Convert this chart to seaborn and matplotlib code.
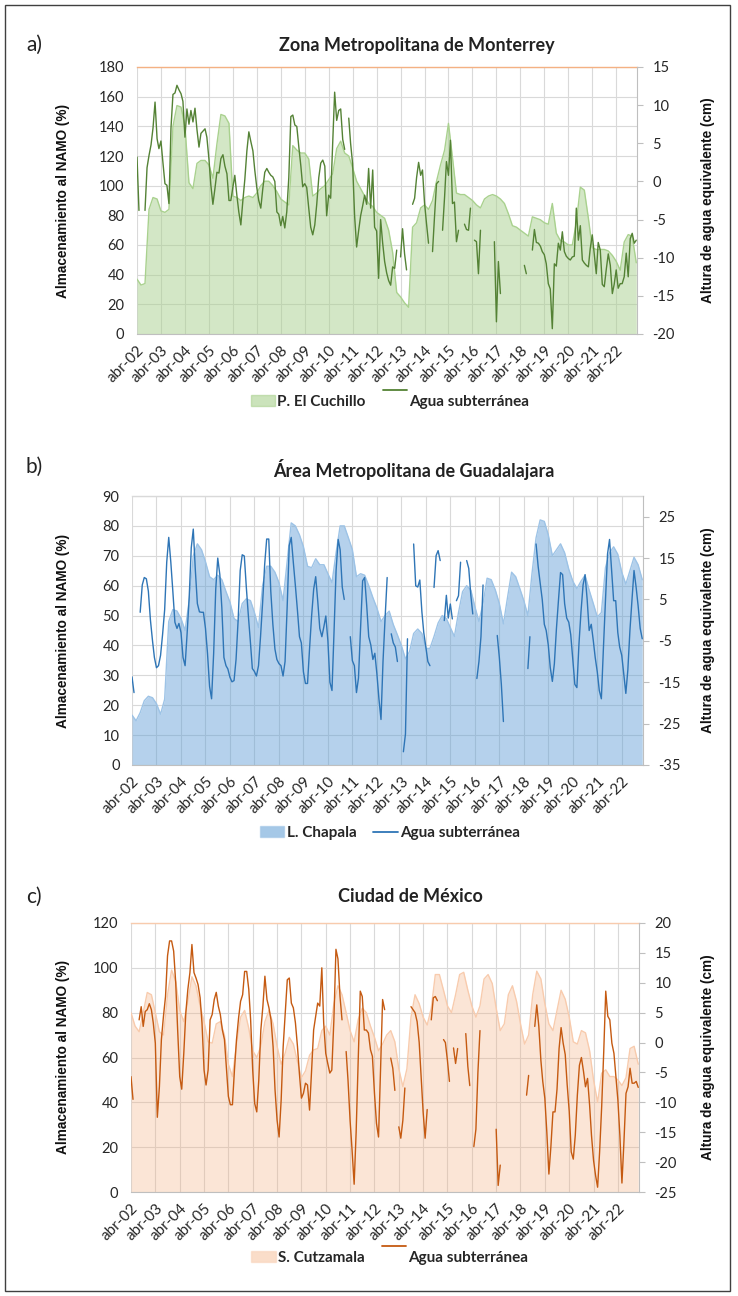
import numpy as np
import pandas as pd
import matplotlib
matplotlib.use("Agg")
import matplotlib.pyplot as plt
import seaborn as sns
from matplotlib.patches import Patch, Rectangle
from matplotlib.lines import Line2D
from matplotlib.legend_handler import HandlerLine2D

nan = np.nan

# ---------------- data ----------------
area_dates = pd.date_range("2002-04-01", periods=126, freq="2MS")
line_dates = pd.date_range("2002-04-01", periods=251, freq="MS")
year_ticks = [pd.Timestamp(y, 4, 1) for y in range(2002, 2023)]
tick_labels = ["abr-02", "abr-03", "abr-04", "abr-05", "abr-06", "abr-07", "abr-08",
               "abr-09", "abr-10", "abr-11", "abr-12", "abr-13", "abr-14", "abr-15",
               "abr-16", "abr-17", "abr-18", "abr-19", "abr-20", "abr-21", "abr-22"]

# a) Monterrey
cuchillo = [37, 33, 34, 84, 92, 91, 83, 82, 84, 140,
            154, 153, 140, 102, 98, 115, 117, 117, 114, 105,
            128, 148, 147, 142, 93, 92, 90, 92, 93, 92,
            95, 100, 103, 103, 100, 96, 91, 89, 87, 127,
            124, 122, 122, 118, 93, 95, 98, 100, 104, 108,
            125, 130, 122, 120, 112, 103, 98, 93, 88, 86,
            82, 80, 78, 70, 55, 28, 25, 21, 18, 72,
            75, 85, 87, 84, 90, 103, 114, 124, 142, 119,
            95, 94, 94, 92, 90, 87, 85, 91, 93, 94,
            93, 91, 88, 81, 73, 72, 70, 68, 66, 79,
            78, 77, 75, 74, 88, 68, 63, 62, 60, 60,
            75, 99, 97, 78, 58, 57, 57, 57, 56, 53,
            49, 43, 62, 67, 66, 48]
gw_mty = [3.2, -3.8, nan, nan, -3.8, 1.8, 3.4, 4.8, 7.0, 10.4,
          5.6, 4.3, 5.3, 2.5, -0.3, -0.5, -2.9, 7.0, 11.4, 11.6,
          12.6, 12.0, 11.5, 10.5, 5.8, 9.5, 7.5, 9.3, 7.8, 9.6,
          6.8, 4.5, 6.3, 6.6, 6.9, 5.8, 3.0, -0.5, -3.0, -1.0,
          1.2, 1.1, 3.0, 3.5, 2.0, 1.0, -2.5, -2.5, -0.8, 0.8,
          -1.8, -4.0, -5.7, -2.5, 0.3, 4.0, 6.5, 5.2, 4.0, 1.5,
          -0.8, -2.5, -3.5, -1.0, 1.2, 1.7, 1.2, 0.8, 0.6, 0.0,
          -4.0, -4.3, -5.8, -4.6, -6.1, -4.0, 0.5, 8.5, 8.7, 7.4,
          7.2, 4.5, 2.0, -0.7, -0.3, -0.8, -3.5, -6.0, -7.0, -5.7,
          -3.0, 0.5, 2.4, 2.8, 2.0, -4.5, -1.8, -2.2, 5.0, 11.7,
          8.0, 9.3, 9.5, 5.5, 4.2, nan, 8.3, 5.0, 2.3, -4.5,
          -8.6, -6.5, -4.5, -3.2, -1.8, -3.0, 1.7, -3.5, 1.5, -6.0,
          -6.5, -12.7, -5.0, -8.0, -10.5, -12.0, -13.0, -13.6, -11.2, -11.4,
          -9.0, nan, -9.9, -6.2, -9.5, -11.6, nan, nan, -3.0, -2.2,
          0.5, 2.5, 0.8, 1.5, -2.8, -5.5, -8.1, nan, -9.2, -4.5,
          -0.3, 0.0, nan, -6.4, -2.0, 2.6, 0.8, 5.4, -2.9, -2.7,
          -7.9, -6.4, nan, nan, -5.6, -6.3, -6.4, -3.5, nan, -7.7,
          -7.9, -12.1, -6.4, nan, nan, nan, nan, nan, nan, -7.9,
          -18.4, -10.5, -14.7, nan, nan, nan, nan, nan, nan, nan,
          nan, nan, nan, nan, -11.0, -12.1, nan, nan, -9.0, -6.3,
          -8.0, -8.1, -8.5, -9.2, -9.6, -10.8, -13.4, -14.1, -19.3, -10.8,
          -11.1, -8.1, -9.0, -6.6, -9.2, -9.8, -10.1, -10.3, -9.9, -9.8,
          -3.5, -7.7, -5.8, -10.3, -10.7, -11.0, -11.2, -8.8, -7.0, -9.5,
          -12.1, -8.0, -9.0, -13.5, -13.8, -11.5, -9.5, -11.0, -14.7, -13.5,
          -11.6, -14.0, -13.4, -13.4, -12.5, -9.4, -12.5, -7.5, -6.8, -8.1,
          -7.7]

# b) Guadalajara
chapala = [16.7, 14.8, 17.5, 21.5, 23, 22.5, 20.5, 17, 22, 48,
           52, 51.5, 49, 45, 55, 70, 74, 72, 68, 63,
           62, 63.5, 62, 58, 54.5, 49, 48, 54, 55.6, 55,
           51, 46, 60, 66.5, 66.5, 64.5, 61, 55, 68, 81,
           80, 77, 73, 66.5, 66, 69, 67, 67, 64, 61,
           71, 80, 80, 76, 72, 63, 64, 63.5, 60, 56,
           52.5, 48, 50, 51.5, 47, 43.5, 40, 35.5, 38, 44,
           45.5, 44, 39, 39, 43, 47.5, 50, 49, 46, 43,
           51, 58, 60, 58.5, 53, 48, 54, 62.5, 62, 58.5,
           54, 47.2, 56, 64.5, 63, 59, 55, 50, 64, 76,
           82, 81.5, 77, 70, 72, 74, 71, 65.5, 61.5, 59,
           61.5, 63.5, 58.5, 54, 49.5, 51, 66, 71, 73, 70.5,
           64.5, 60.5, 65, 69.5, 67, 62]
gw_gdl = [-13.7, -17.5, nan, nan, 1.9, 8.5, 10.3, 10.0, 7.0, 0.0,
          -5.0, -9.0, -11.5, -11.0, -8.5, -3.5, 2.5, 14.0, 20.0, 14.0,
          7.0, -0.5, -2.0, -0.8, -3.0, -9.0, -11.0, -3.3, 5.5, 17.5,
          22.0, 12.0, 4.0, 2.0, 1.9, 1.9, -2.0, -8.0, -16.0, -19.0,
          -8.0, 7.5, 15.0, 11.0, 3.0, -9.0, -11.0, -11.8, -13.8, -14.9,
          -14.6, -9.5, 0.0, 12.0, 15.8, 15.5, 8.0, 1.0, -5.5, -11.7,
          -12.4, -13.5, -11.0, -4.0, 4.2, 13.5, 19.6, 19.6, 7.0, -1.0,
          -7.0, -9.5, -10.5, -11.0, -13.5, -10.0, 3.0, 18.0, 20.0, 14.0,
          8.5, 2.5, -4.0, -5.5, -12.5, -15.3, -15.3, -7.0, 1.0, 7.5,
          10.5, 4.5, -2.0, -4.0, -1.5, 1.0, -5.0, -15.0, -17.0, -3.0,
          12.0, 19.5, 17.0, 8.0, 5.0, nan, nan, -4.0, -9.8, -11.0,
          -17.5, -14.0, -2.0, 9.5, 10.3, 3.5, -4.0, -6.0, -9.5, -8.0,
          -13.0, -19.0, -24.0, -10.0, 0.5, 10.3, nan, -3.3, -5.5, -6.5,
          -10.0, nan, nan, -31.8, -27.5, -4.5, nan, nan, 18.4, 8.3,
          8.0, 9.7, 2.0, -3.0, -6.5, -10.0, -11.0, nan, 7.9, 15.6,
          16.8, 14.4, nan, -0.1, 6.0, 0.5, 3.9, 0.3, nan, 4.7,
          5.9, 14.0, nan, nan, 14.4, 12.5, 6.0, 1.5, nan, -14.1,
          -10.0, -4.0, 8.5, nan, nan, nan, nan, nan, nan, -3.7,
          -9.0, -15.5, -24.5, nan, nan, nan, nan, nan, nan, nan,
          nan, nan, nan, nan, -11.7, -4.0, nan, nan, 18.4, 13.0,
          9.0, 5.0, -1.0, -2.5, -6.0, -11.5, -14.8, -10.5, -2.0, 5.0,
          11.5, 11.0, 4.0, 0.5, -0.5, -3.5, -9.5, -15.5, -16.3, -6.0,
          2.0, 8.5, 11.0, 5.0, -2.5, -1.0, -5.0, -9.0, -12.5, -17.0,
          -19.0, -7.0, 4.7, 16.0, 19.5, 12.0, 4.7, 4.7, -3.0, -6.5,
          -8.5, -13.0, -17.7, -12.0, -2.5, 5.0, 12.0, 8.0, 3.5, -2.0,
          -4.5]

# c) Ciudad de Mexico
cutzamala = [80, 74, 71.5, 80, 89, 88, 80, 71.5, 70, 88,
             99, 94, 81, 76, 85, 96, 92, 83, 76, 67,
             66.4, 75, 76, 70, 57, 51.5, 66, 78, 81, 73,
             63, 60, 65, 76, 81, 75, 65, 57, 62, 69,
             66, 58, 51, 54, 61, 63.4, 64, 72, 74, 70,
             84, 92, 88, 80, 72, 67, 77, 82, 80, 74,
             69, 63, 66, 70, 72, 67, 55, 47, 55, 78,
             88, 84, 78, 74.5, 82, 97, 97, 90, 83, 80,
             88, 97, 98, 90, 83, 78, 83, 95, 97, 93,
             82, 72, 75, 88, 92, 85, 75, 66, 70, 88,
             98.5, 95, 84, 75, 72, 81, 90, 86, 78, 67,
             66, 72, 71, 63, 50, 40, 53, 54.5, 51.5, 51.5,
             50, 47.5, 51, 64, 65, 57]
gw_cdmx = [-5.7, -9.5, nan, nan, 3.8, 6.0, 2.7, 5.2, 5.5, 6.5,
           5.5, 3.3, -0.1, -12.5, -7.4, 0.5, 4.4, 7.7, 14.5, 17.0,
           17.0, 15.3, 10.0, 2.1, -5.7, -7.8, -1.8, 4.9, 8.9, 11.7,
           16.4, 11.7, 10.8, 9.7, 7.5, 3.3, -4.6, -7.1, -4.6, 3.8,
           4.7, 7.2, 8.4, 6.1, 4.7, 2.1, 0.5, -4.0, -9.0, -10.4,
           -10.4, -4.6, 0.5, 4.1, 6.9, 8.0, 11.9, 11.9, 8.9, 3.8,
           -4.6, -10.2, -11.6, -6.3, 2.1, 6.1, 11.1, 7.2, 5.8, 3.8,
           -0.7, -7.9, -13.0, -15.8, -9.6, -0.7, 4.9, 10.5, 10.8, 6.6,
           5.8, 3.3, -0.7, -5.1, -9.3, -8.5, -6.8, -7.1, -11.3, -4.6,
           2.1, 4.4, 6.6, 6.1, 12.5, 3.3, -1.8, -3.5, -5.1, -4.6,
           3.8, 15.6, 14.0, 7.7, 3.8, nan, -1.5, -6.3, -13.0, -18.0,
           -23.7, -15.0, -2.9, 8.6, 7.7, 2.1, 2.1, 1.6, -1.2, -2.3,
           -8.5, -13.5, -15.8, -4.6, 7.2, 5.5, nan, nan, -2.6, -4.3,
           -8.0, nan, -14.1, -16.0, -13.0, -7.6, nan, nan, 6.0, 5.5,
           5.0, 3.5, 0.0, -5.5, -11.6, -16.0, -11.2, nan, 3.8, 7.5,
           7.7, 7.0, nan, nan, 0.5, 0.0, -3.0, -6.5, nan, -0.9,
           -3.5, -1.0, nan, nan, nan, 1.5, -4.0, -7.2, nan, -17.4,
           -14.5, -5.0, 2.0, nan, nan, nan, nan, nan, nan, nan,
           -14.5, -23.9, -20.5, nan, nan, nan, nan, nan, nan, nan,
           nan, nan, nan, nan, nan, -8.8, -5.5, nan, nan, 2.7,
           6.3, 2.7, -3.0, -6.5, -9.3, -15.0, -22.0, -17.4, -11.6, -11.6,
           -7.8, -1.0, 2.5, -0.1, -2.0, -7.0, -11.5, -18.3, -19.5, -15.5,
           -8.8, -3.8, -2.5, -4.8, -7.4, -6.0, -10.5, -15.5, -19.7, -22.2,
           -24.2, -18.3, -10.7, -1.5, 8.6, 4.4, 3.8, -0.1, -1.8, -5.5,
           -9.6, -15.5, -23.5, -16.6, -8.5, -7.4, -4.3, -6.8, -6.8, -6.5,
           -7.5]

# ---------------- style ----------------
sns.set_style("white")
plt.rcParams["font.family"] = ["Lato", "DejaVu Sans"]
plt.rcParams["axes.unicode_minus"] = False

W, H = 738, 1296
fig = plt.figure(figsize=(W / 100, H / 100), dpi=100)


def fx(px):
    return px / W


def fy(py):
    return 1 - py / H


class RaisedLine(HandlerLine2D):
    """Legend line handle drawn slightly above the text baseline (as in the original)."""
    def __init__(self, dy, **kw):
        super().__init__(**kw)
        self.dy = dy

    def create_artists(self, legend, orig_handle, xdescent, ydescent, width,
                       height, fontsize, trans):
        arts = super().create_artists(legend, orig_handle, xdescent, ydescent,
                                      width, height, fontsize, trans)
        for a in arts:
            a.set_ydata(np.asarray(a.get_ydata()) + self.dy)
        return arts


panels = [
    dict(letter="a)", title="Zona Metropolitana de Monterrey",
         box=(137, 67, 637, 334), area=cuchillo, line=gw_mty,
         aname="P. El Cuchillo", fill="#a9d18e", falpha=0.5, edge="#a9d18e",
         lcol="#548235", ylim=(0, 180), ystep=20, y2lim=(-20, 15),
         y2ticks=list(range(-20, 16, 5)), top="#f4b183",
         letter_y=45, title_y=46, title_x=417, leg_y=402, raise_=8),
    dict(letter="b)", title="Área Metropolitana de Guadalajara",
         box=(132, 496, 643, 765), area=chapala, line=gw_gdl,
         aname="L. Chapala", fill="#5b9bd5", falpha=0.45, edge="#9dc3e6",
         lcol="#2e75b6", ylim=(0, 90), ystep=10, y2lim=(-35, 30),
         y2ticks=list(range(-35, 26, 10)), top="#d9d9d9",
         letter_y=467, title_y=469, title_x=414, leg_y=833, raise_=0),
    dict(letter="c)", title="Ciudad de México",
         box=(131, 923, 639, 1192), area=cutzamala, line=gw_cdmx,
         aname="S. Cutzamala", fill="#f4b183", falpha=0.33, edge="#f8cbad",
         lcol="#c55a11", ylim=(0, 120), ystep=20, y2lim=(-25, 20),
         y2ticks=list(range(-25, 21, 5)), top="#f8cbad",
         letter_y=897, title_y=897, title_x=410, leg_y=1258, raise_=8),
]

xmin, xmax = pd.Timestamp("2002-04-01"), pd.Timestamp("2023-02-12")
grid_col = "#d9d9d9"
axis_col = "#bfbfbf"

for p in panels:
    l, t, r, b = p["box"]
    ax = fig.add_axes([fx(l), fy(b), fx(r - l), (b - t) / H])
    ax2 = ax.twinx()

    # area (reservoir storage)
    adf = pd.DataFrame({"date": area_dates, "pct": p["area"]})
    ax.fill_between(adf["date"], 0, adf["pct"], color=p["fill"], alpha=p["falpha"],
                    lw=0, zorder=1)
    sns.lineplot(data=adf, x="date", y="pct", ax=ax, color=p["edge"], lw=1.0,
                 legend=False, zorder=2)

    # groundwater line with gaps
    ldf = pd.DataFrame({"date": line_dates, "cm": p["line"]})
    ldf["seg"] = ldf["cm"].isna().cumsum()
    ldf = ldf.dropna()
    sns.lineplot(data=ldf, x="date", y="cm", units="seg", estimator=None, ax=ax2,
                 color=p["lcol"], lw=1.0, legend=False)

    ax.set_xlim(xmin, xmax)
    ax2.set_xlim(xmin, xmax)
    ax.set_ylim(*p["ylim"])
    ax2.set_ylim(*p["y2lim"])
    ax.set_yticks(np.arange(p["ylim"][0], p["ylim"][1] + 1, p["ystep"]))
    ax2.set_yticks(p["y2ticks"])
    ax.set_xticks(year_ticks)
    ax.set_xticklabels(tick_labels, rotation=45, ha="right", va="top",
                       rotation_mode="anchor", fontsize=11)
    ax.grid(True, color=grid_col, lw=0.8)
    ax.set_axisbelow(True)
    ax.set_xlabel("")
    ax.set_ylabel("")
    ax2.set_ylabel("")
    ax.tick_params(axis="y", length=0, pad=9, labelsize=10.5)
    ax.tick_params(axis="x", length=4, color=axis_col, pad=3, direction="out")
    ax2.tick_params(axis="y", length=4, color=axis_col, pad=7, labelsize=10.5,
                    direction="out")
    ax.spines["left"].set_visible(False)
    ax2.spines["left"].set_visible(False)
    ax.spines["bottom"].set_color(axis_col)
    ax2.spines["bottom"].set_visible(False)
    ax.spines["right"].set_visible(False)
    ax2.spines["right"].set_color(axis_col)
    ax2.spines["top"].set_visible(False)
    ax.spines["top"].set_color(p["top"])
    ax.spines["top"].set_linewidth(1.0)
    ax2.grid(False)

    # texts
    fig.text(fx(26), fy(p["letter_y"]), p["letter"], fontsize=15, ha="left",
             va="center", color="#222222")
    fig.text(fx(p["title_x"]), fy(p["title_y"]), p["title"], fontsize=13,
             fontweight="bold", ha="center", va="center", color="#222222")
    ymid = fy((t + b) / 2)
    fig.text(fx(63), ymid, "Almacenamiento al NAMO (%)", rotation=90,
             fontsize=9.8, fontweight="bold", family=["Liberation Sans", "DejaVu Sans"],
             ha="center", va="center", color="#111111")
    fig.text(fx(708), ymid, "Altura de agua equivalente (cm)", rotation=90,
             fontsize=9.8, fontweight="bold", family=["Liberation Sans", "DejaVu Sans"],
             ha="center", va="center", color="#111111")

    line_handle = Line2D([0], [0], color=p["lcol"], lw=1.3)
    handles = [Patch(facecolor=p["fill"], alpha=p["falpha"] + 0.1, edgecolor=p["edge"]),
               line_handle]
    fig.legend(handles, [p["aname"], "Agua subterránea"], loc="center",
               bbox_to_anchor=(fx(390), fy(p["leg_y"])), ncol=2, frameon=False,
               prop={"weight": "bold", "size": 11}, handlelength=1.6,
               columnspacing=1.1, handletextpad=0.15,
               handler_map={line_handle: RaisedLine(p["raise_"])})

fig.patches.append(Rectangle((fx(5), fy(1291)), fx(725), (1286) / H,
                             transform=fig.transFigure, fill=False,
                             edgecolor="#404040", lw=1.0))

fig.savefig("out.png", dpi=100)
